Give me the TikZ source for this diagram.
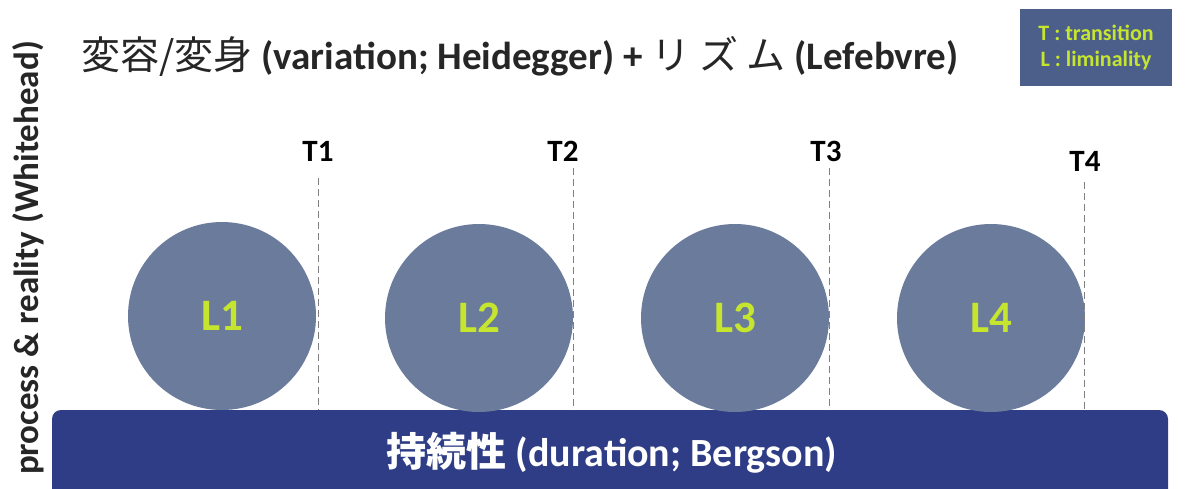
\documentclass[tikz,border=0pt]{standalone}
\usepackage{fontspec}
\setmainfont{Carlito}
\newfontfamily\cjk{Noto Sans CJK JP}
\definecolor{circfill}{HTML}{6A7B9C}
\definecolor{barfill}{HTML}{2E3D85}
\definecolor{legfill}{HTML}{4B5F8A}
\definecolor{lime}{HTML}{C5E52F}
\begin{document}
\begin{tikzpicture}[x=1pt,y=-1pt,
  circ/.style={circle,fill=circfill,minimum size=188pt,inner sep=0pt,text=lime,font=\bfseries\fontsize{45}{50}\selectfont},
  tlab/.style={font=\bfseries\fontsize{31}{34}\selectfont,text=black},
  tline/.style={draw=gray,dashed,line width=0.8pt,dash pattern=on 7pt off 4pt}]
\useasboundingbox (0,0) rectangle (1189,488);
% bottom bar
\fill[barfill,rounded corners=9pt] (52,410) rectangle (1168,500);
\node[text=white,font=\bfseries\fontsize{40}{46}\selectfont] (bar) at (612,453) {{\cjk 持続性} (duration; Bergson)};
% title
\node[anchor=west,font=\bfseries\fontsize{39}{44}\selectfont,text=black!85] (title) at (78,56) {{\cjk\mdseries 変容/変身} (variation; Heidegger) + {\cjk\mdseries リ ズ ム} (Lefebvre)};
% legend
\node[fill=legfill,minimum width=152pt,minimum height=77pt,inner sep=0pt,align=center,text=lime,font=\bfseries\fontsize{22}{26}\selectfont] (leg) at (1096,47) {T : transition\\L : liminality};
% vertical label
\node[rotate=90,font=\bfseries\fontsize{35}{40}\selectfont,text=black!85] (vert) at (28,258) {process \& reality (Whitehead)};
% circles
\node[circ] (L1) at (222,316) {L1};
\node[circ] (L2) at (479,318) {L2};
\node[circ] (L3) at (735,318) {L3};
\node[circ] (L4) at (991,318) {L4};
% transition labels and lines
\node[tlab] (T1) at (318,151) {T1};
\node[tlab] (T2) at (563,151) {T2};
\node[tlab] (T3) at (826,151) {T3};
\node[tlab] (T4) at (1085,161) {T4};
\coordinate (a1) at (318,178); \coordinate (b1) at (318,410);
\coordinate (a2) at (573,168); \coordinate (b2) at (573,410);
\coordinate (a3) at (829,168); \coordinate (b3) at (829,410);
\coordinate (a4) at (1084,182); \coordinate (b4) at (1084,410);
\draw[tline] (a1) -- (b1);
\draw[tline] (a2) -- (b2);
\draw[tline] (a3) -- (b3);
\draw[tline] (a4) -- (b4);
\end{tikzpicture}
\end{document}
